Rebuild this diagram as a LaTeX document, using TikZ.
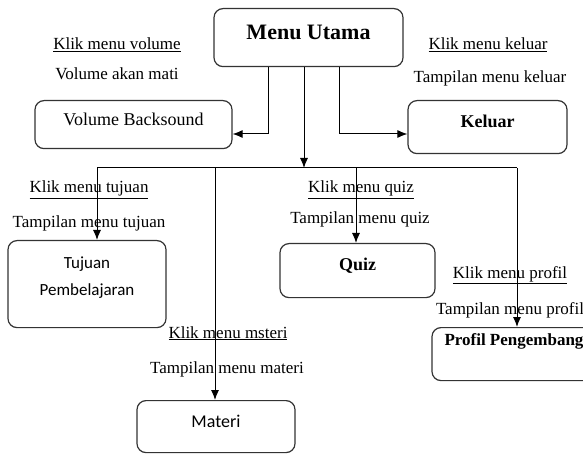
\documentclass[tikz,border=0pt]{standalone}
\usepackage{fontspec}
\setmainfont{Liberation Serif}
\newfontfamily\calfont{Carlito}
\usetikzlibrary{arrows.meta}
\tikzset{
  menubox/.style={draw=black!80,line width=1.2pt,rounded corners=9pt,inner xsep=0pt,inner ysep=0pt,anchor=north,align=center},
  lbl/.style={anchor=base,inner sep=0pt,font=\fontsize{17}{20}\selectfont},
  boxtxt/.style={font=\fontsize{18}{22}\selectfont},
  boxbold/.style={font=\bfseries\fontsize{18}{22}\selectfont},
}
\begin{document}
\begin{tikzpicture}[>={Latex[length=10pt,width=8pt]},x=1pt,y=-1pt,line width=1pt]
    \useasboundingbox (0,0) rectangle (583,454);
    \clip (0,0) rectangle (583,454);
    % kotak menu
    \node[menubox,font=\bfseries\fontsize{22}{26}\selectfont,minimum width=189,text height=31,text depth=27] (utama) at (308.5,8) {Menu Utama};
    \node[menubox,boxtxt,minimum width=197,text height=25,text depth=23] (volume) at (133.5,100) {Volume Backsound};
    \node[menubox,boxbold,minimum width=159,text height=27,text depth=26] (keluar) at (487.5,100) {Keluar};
    \node[menubox,boxbold,minimum width=155,text height=27,text depth=27] (quiz) at (357.5,243) {Quiz};
    \node[menubox,font=\calfont\fontsize{17}{27}\selectfont,minimum width=158,text height=55,text depth=32] (tujuan) at (87,240) {Tujuan\\Pembelajaran};
    \node[menubox,font=\calfont\fontsize{18}{22}\selectfont,minimum width=158,text height=27,text depth=25] (materi) at (216,400) {Materi};
    \node[menubox,font=\bfseries\fontsize{17}{20}\selectfont,minimum width=164,text height=18,text depth=35] (profil) at (514,327) {Profil Pengembang};
    % penghubung
    \coordinate (volTurn) at (268,134);
    \coordinate (kelTurn) at (339,134);
    \coordinate (hub) at (304,168);
    \coordinate (busL) at (97,168);
    \coordinate (busM) at (215,168);
    \coordinate (busQ) at (356,168);
    \coordinate (busR) at (517,168);
    \draw[->] (utama.south -| volTurn) |- (volume.east |- volTurn);
    \draw[->] (utama.south -| kelTurn) |- (keluar.west |- kelTurn);
    \draw[->] (utama.south -| hub) -- (hub);
    \draw (busL) -- (busR);
    \draw[->] (busL) -- (tujuan.north -| busL);
    \draw[->] (busM) -- (materi.north -| busM);
    \draw[->] (busQ) -- (quiz.north -| busQ);
    \draw[->] (busR) -- (profil.north -| busR);
    % keterangan
    \node[lbl] (klikVol) at (117,50) {\underline{Klik menu volume}};
    \node[lbl] (tampVol) at (117,80) {Volume akan mati};
    \node[lbl] (klikKel) at (488,50) {\underline{Klik menu keluar}};
    \node[lbl] (tampKel) at (490,83) {Tampilan menu keluar};
    \node[lbl] (klikTuj) at (89,193) {\underline{Klik menu tujuan}};
    \node[lbl] (tampTuj) at (89,228) {Tampilan menu tujuan};
    \node[lbl] (klikQuiz) at (361,193) {\underline{Klik menu quiz}};
    \node[lbl] (tampQuiz) at (360,224) {Tampilan menu quiz};
    \node[lbl] (klikMat) at (228,338) {\underline{Klik menu msteri}};
    \node[lbl] (tampMat) at (227,373) {Tampilan menu materi};
    \node[lbl] (klikPro) at (510,278) {\underline{Klik menu profil}};
    \node[lbl] (tampPro) at (510,314) {Tampilan menu profil};
\end{tikzpicture}
\end{document}
